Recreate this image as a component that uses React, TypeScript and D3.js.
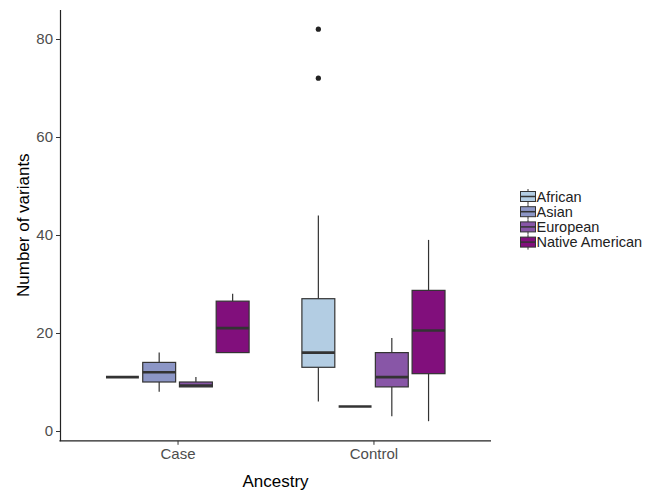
import * as d3 from "d3";
import { useEffect, useRef } from "react";

const groups = ["Case", "Control"];
const ancestries = ["African", "Asian", "European", "Native American"];
const colors = ["#b3cde3", "#8c96c6", "#8856a7", "#810f7c"];

// box stats per ancestry, [Case, Control]
const lowerWhisker = [[11, 6], [8, 5], [9, 3], [16, 2]];
const q1 = [[11, 13], [10, 5], [9, 9], [16, 11.7]];
const median = [[11, 16], [12, 5], [9.3, 11], [21, 20.5]];
const q3 = [[11, 27], [14, 5], [10, 16], [26.5, 28.7]];
const upperWhisker = [[11, 44], [16, 5], [11, 19], [28, 39]];
const outliers = [[[], [72, 82]], [[], []], [[], []], [[], []]];

const yTicks = [0, 20, 40, 60, 80];

export default function App() {
  const svgRef = useRef<SVGSVGElement | null>(null);

  useEffect(() => {
    if (!svgRef.current) return;
    const svg = d3.select(svgRef.current);
    svg.selectAll("*").remove();

    const font = "'Liberation Sans', Arial, sans-serif";
    const left = 60;
    const right = 491;
    const x = d3.scaleLinear().domain([-0.6, 1.6]).range([left, right]);
    const y = d3.scaleLinear().domain([-2, 86]).range([440.8, 9.6]);

    const dodge = 0.1875; // spacing between boxes (units)
    const boxW = x(0.168) - x(0);

    // boxes
    ancestries.forEach((a, ai) => {
      groups.forEach((g, gi) => {
        const cx = x(gi + (ai - 1.5) * dodge);
        const gEl = svg.append("g");
        gEl.append("line")
          .attr("x1", cx).attr("x2", cx)
          .attr("y1", y(upperWhisker[ai][gi])).attr("y2", y(q3[ai][gi]))
          .attr("stroke", "#333").attr("stroke-width", 1.2);
        gEl.append("line")
          .attr("x1", cx).attr("x2", cx)
          .attr("y1", y(lowerWhisker[ai][gi])).attr("y2", y(q1[ai][gi]))
          .attr("stroke", "#333").attr("stroke-width", 1.2);
        gEl.append("rect")
          .attr("x", cx - boxW / 2)
          .attr("y", y(q3[ai][gi]))
          .attr("width", boxW)
          .attr("height", y(q1[ai][gi]) - y(q3[ai][gi]))
          .attr("fill", colors[ai])
          .attr("stroke", "#333")
          .attr("stroke-width", 1.2);
        gEl.append("line")
          .attr("x1", cx - boxW / 2).attr("x2", cx + boxW / 2)
          .attr("y1", y(median[ai][gi])).attr("y2", y(median[ai][gi]))
          .attr("stroke", "#333").attr("stroke-width", 2.6);
        outliers[ai][gi].forEach((v) => {
          gEl.append("circle")
            .attr("cx", cx).attr("cy", y(v)).attr("r", 2.6)
            .attr("fill", "#222");
        });
      });
    });

    // axes
    const yAxis = svg.append("g").attr("transform", `translate(${left},0)`)
      .call(d3.axisLeft(y).tickValues(yTicks).tickSize(4).tickSizeOuter(0).tickPadding(3));
    yAxis.select(".domain").attr("stroke", "#222").attr("stroke-width", 1.2);
    yAxis.selectAll(".tick line").attr("stroke", "#333");
    yAxis.selectAll(".tick text")
      .attr("font-family", font).attr("font-size", 15).attr("fill", "#4d4d4d");

    const xAxis = svg.append("g").attr("transform", `translate(0,${y(-2)})`)
      .call(d3.axisBottom(x).tickValues([0, 1]).tickFormat((d) => groups[d as number])
        .tickSize(4).tickSizeOuter(0).tickPadding(4));
    xAxis.select(".domain").attr("stroke", "#222").attr("stroke-width", 1.2)
      .attr("d", `M${left - 0.6},0H${right}`);
    xAxis.selectAll(".tick line").attr("stroke", "#333");
    xAxis.selectAll(".tick text")
      .attr("font-family", font).attr("font-size", 15).attr("fill", "#4d4d4d");

    // axis titles
    svg.append("text")
      .attr("x", (left + right) / 2).attr("y", 487)
      .attr("text-anchor", "middle")
      .attr("font-family", font).attr("font-size", 17)
      .text("Ancestry");
    svg.append("text")
      .attr("transform", `translate(29,${(9.6 + 440.8) / 2}) rotate(-90)`)
      .attr("text-anchor", "middle")
      .attr("font-family", font).attr("font-size", 17)
      .text("Number of variants");

    // legend
    const legend = svg.append("g").attr("transform", "translate(520,189)");
    ancestries.forEach((a, i) => {
      const row = legend.append("g").attr("transform", `translate(0,${i * 15.2})`);
      row.append("line").attr("x1", 8).attr("x2", 8).attr("y1", 0).attr("y2", 15)
        .attr("stroke", "#333").attr("stroke-width", 1);
      row.append("rect").attr("x", 0.5).attr("y", 2.5).attr("width", 15).attr("height", 10)
        .attr("fill", colors[i]).attr("stroke", "#333").attr("stroke-width", 1);
      row.append("line").attr("x1", 0.5).attr("x2", 15.5).attr("y1", 7.5).attr("y2", 7.5)
        .attr("stroke", "#333").attr("stroke-width", 1.5);
      row.append("text").attr("x", 16.5).attr("y", 12.8)
        .attr("font-family", font).attr("font-size", 14.5).attr("fill", "#222")
        .text(a);
    });
  }, []);

  return (
    <svg ref={svgRef} width={649} height={492}
      style={{ position: "absolute", left: 0, top: 0, background: "#fff" }} />
  );
}
